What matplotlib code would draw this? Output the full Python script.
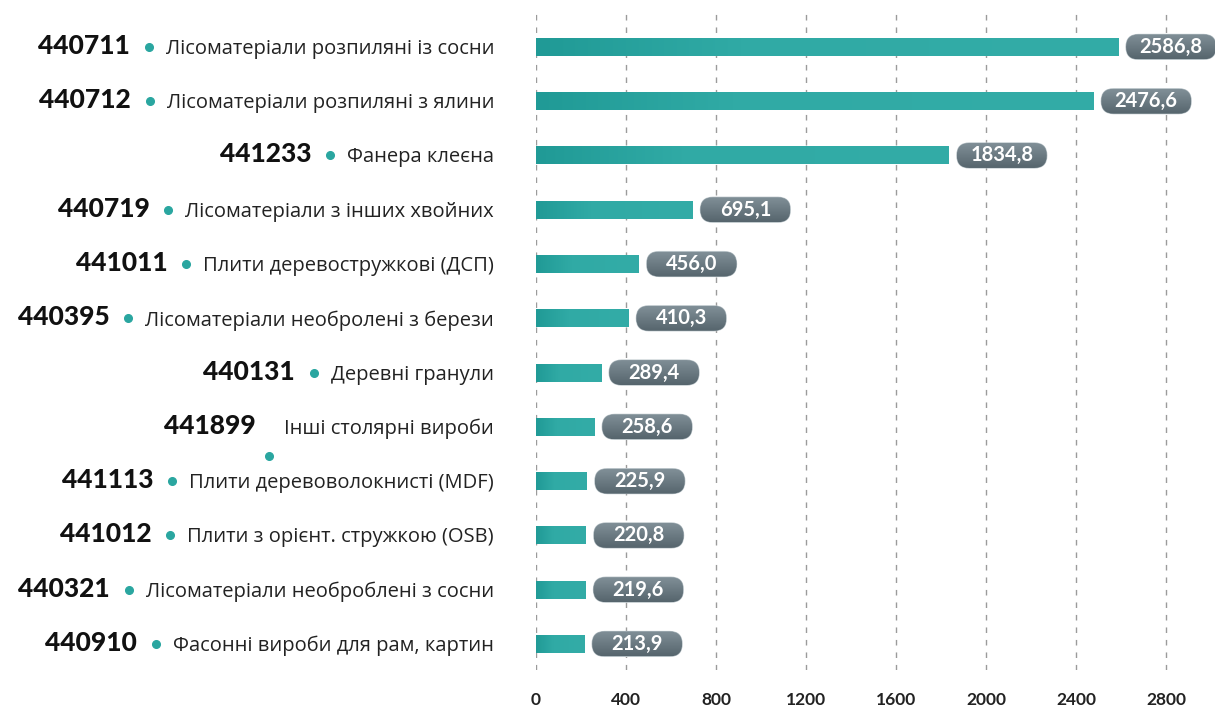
import matplotlib.pyplot as plt
import numpy as np
from matplotlib.colors import LinearSegmentedColormap
from matplotlib.patches import FancyBboxPatch
from matplotlib.transforms import blended_transform_factory

codes = ["440711", "440712", "441233", "440719", "441011", "440395",
         "440131", "441899", "441113", "441012", "440321", "440910"]
names = [
    "Лісоматеріали розпиляні із сосни",
    "Лісоматеріали розпиляні з ялини",
    "Фанера клеєна",
    "Лісоматеріали з інших хвойних",
    "Плити деревостружкові (ДСП)",
    "Лісоматеріали необролені з берези",
    "Деревні гранули",
    "Інші столярні вироби",
    "Плити деревоволокнисті (MDF)",
    "Плити з орієнт. стружкою (OSB)",
    "Лісоматеріали необроблені з сосни",
    "Фасонні вироби для рам, картин",
]
values = [2586.8, 2476.6, 1834.8, 695.1, 456.0, 410.3, 289.4, 258.6, 225.9, 220.8, 219.6, 213.9]
ticks = [0, 400, 800, 1200, 1600, 2000, 2400, 2800]

W, H = 1215, 706
plt.rcParams["font.family"] = ["Lato", "DejaVu Sans"]

fig = plt.figure(figsize=(W / 100, H / 100), dpi=100)
ax = fig.add_axes([536 / W, 1 - 670 / H, 1 - 536 / W, 660 / H])

xmax = 679 / 0.225
ux = xmax / 679          # data units per pixel in x
uy = (11.48 + 0.68) / 660  # data units per pixel in y
bar_h = 18 * uy

bar_cmap = LinearSegmentedColormap.from_list(
    "bar", [(0, "#209a96"), (0.35, "#30aaa5"), (1, "#33aca7")])
pill_cmap = LinearSegmentedColormap.from_list("pill", ["#808f97", "#56656d"])

ys = np.arange(len(values))
bars = ax.barh(ys, values, height=bar_h, color="none", edgecolor="none")
grad = np.linspace(0, 1, 256).reshape(1, -1)
for b, v, y in zip(bars, values, ys):
    im = ax.imshow(grad, cmap=bar_cmap, aspect="auto",
                   extent=[0, v, y + bar_h / 2, y - bar_h / 2], zorder=2)
    im.set_clip_path(b)

# value pills
pill_w, pill_h, gap = 90 * ux, 25 * uy, 8 * ux
vgrad = np.linspace(0, 1, 64).reshape(-1, 1)
for v, y in zip(values, ys):
    x0 = v + gap
    p = FancyBboxPatch((x0, y - pill_h / 2), pill_w, pill_h,
                       boxstyle=f"round,pad=0,rounding_size={12.5 * ux}",
                       mutation_aspect=uy / ux, facecolor="none",
                       edgecolor="#b5c0c5", lw=0.8, zorder=3, clip_on=False)
    ax.add_patch(p)
    im = ax.imshow(vgrad, cmap=pill_cmap, aspect="auto",
                   extent=[x0, x0 + pill_w, y + pill_h / 2, y - pill_h / 2], zorder=3)
    im.set_clip_path(p)
    label = f"{v:.1f}".replace(".", ",")
    ax.text(x0 + pill_w / 2, y, label, ha="center", va="center", color="white",
            fontsize=14.5, fontweight="bold", zorder=4)

ax.set_xlim(0, xmax)
ax.set_ylim(11.48, -0.68)

# dashed grid
for t in ticks:
    ax.axvline(t, color="#9b9b9b", lw=1, ls=(0, (4, 5)), zorder=1)

ax.set_xticks(ticks)
ax.set_xticklabels([str(t) for t in ticks], fontsize=12.5, fontweight="bold", color="#222222")
ax.tick_params(axis="x", length=0, pad=16)
ax.set_yticks([])
for s in ax.spines.values():
    s.set_visible(False)

# left labels: code, dot, name
tr = blended_transform_factory(fig.transFigure, ax.transData)
fig.canvas.draw()
renderer = fig.canvas.get_renderer()
for code, name, y in zip(codes, names, ys):
    t = fig.text(494 / W, y + 2 * uy, name, transform=tr, ha="right", va="center",
                 fontsize=14.5, color="#222222", family=["Open Sans", "DejaVu Sans"])
    left_px = t.get_window_extent(renderer).x0
    if code == "441899":
        dot_x, dot_dy = left_px - 15, 29 * uy
        code_r = left_px - 29
    else:
        dot_x, dot_dy = left_px - 17, 0
        code_r = left_px - 36
    ax.plot([dot_x / W], [y + dot_dy], "o", ms=5.5, color="#2aa6a0",
            transform=tr, clip_on=False)
    fig.text(code_r / W, y - 1 * uy, code, transform=tr, ha="right", va="center",
             fontsize=19, fontweight="black", color="#111111")

fig.savefig("out.png", dpi=100)
